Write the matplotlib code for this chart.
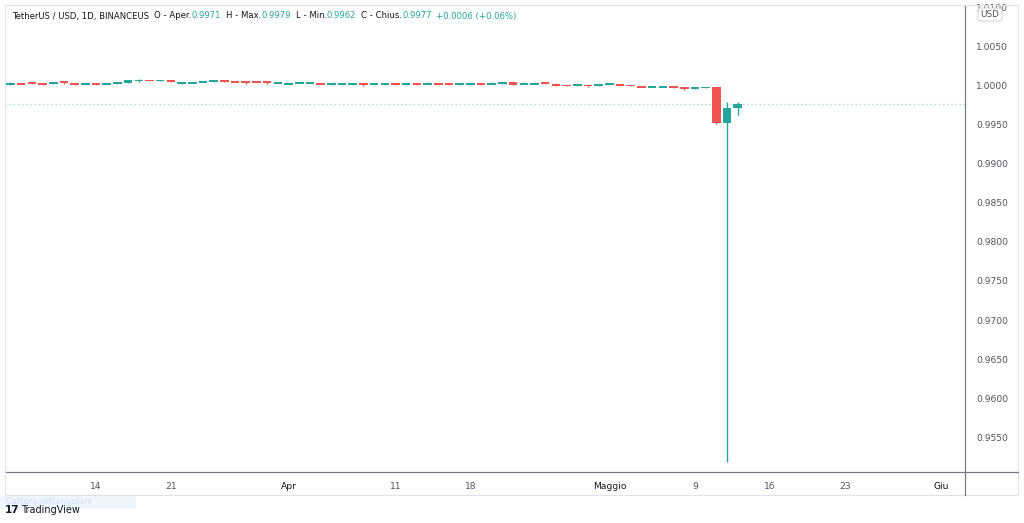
import numpy as np
import pandas as pd
import matplotlib
matplotlib.use("Agg")
import matplotlib.pyplot as plt
from matplotlib.patches import FancyBboxPatch, Rectangle
from matplotlib.lines import Line2D

# Daily candles TetherUS / USD (BINANCEUS), 6 Mar - 13 May
dates = pd.date_range("2022-03-06", "2022-05-13", freq="D")

opens = [1.0002, 1.0003, 1.0004, 1.0002, 1.0002, 1.0005, 1.0002, 1.0002, 1.0002, 1.0002,
         1.0003, 1.0003, 1.0006, 1.0007, 1.0006, 1.0007, 1.0003, 1.0003, 1.0004, 1.0005,
         1.0006, 1.0005, 1.0005, 1.0005, 1.0005, 1.0003, 1.0002, 1.0003, 1.0003, 1.0003,
         1.0001, 1.0001, 1.0001, 1.0002, 1.0001, 1.0001, 1.0003, 1.0001, 1.0002, 1.0002,
         1.0002, 1.0002, 1.0001, 1.0001, 1.0002, 1.0002, 1.0002, 1.0004, 1.0002, 1.0002,
         1.0004, 1.0002, 1.0001, 1.0000, 1.0001, 1.0000, 1.0001, 1.0002, 1.0001, 0.9999,
         0.9998, 0.9998, 0.9999, 0.9998, 0.9996, 0.9997, 0.9998, 0.9952, 0.9971]
closes = [1.0003, 1.0002, 1.0002, 1.0001, 1.0004, 1.0003, 1.0001, 1.0003, 1.0001, 1.0003,
          1.0004, 1.0007, 1.0007, 1.0006, 1.0007, 1.0004, 1.0004, 1.0004, 1.0005, 1.0006,
          1.0005, 1.0004, 1.0004, 1.0004, 1.0003, 1.0004, 1.0003, 1.0004, 1.0004, 1.0002,
          1.0002, 1.0002, 1.0002, 1.0001, 1.0002, 1.0003, 1.0001, 1.0002, 1.0001, 1.0003,
          1.0001, 1.0001, 1.0002, 1.0002, 1.0001, 1.0003, 1.0004, 1.0001, 1.0003, 1.0003,
          1.0002, 1.0000, 0.9999, 1.0001, 0.9999, 1.0002, 1.0003, 1.0000, 0.9999, 0.9998,
          0.9999, 0.9999, 0.9997, 0.9996, 0.9998, 0.9998, 0.9952, 0.9971, 0.9977]
highs = [1.0004, 1.0003, 1.0004, 1.0002, 1.0004, 1.0006, 1.0002, 1.0003, 1.0002, 1.0003,
         1.0005, 1.0007, 1.0008, 1.0007, 1.0007, 1.0007, 1.0005, 1.0004, 1.0005, 1.0006,
         1.0006, 1.0005, 1.0005, 1.0005, 1.0006, 1.0004, 1.0003, 1.0005, 1.0004, 1.0003,
         1.0002, 1.0002, 1.0002, 1.0002, 1.0002, 1.0003, 1.0003, 1.0002, 1.0002, 1.0004,
         1.0002, 1.0002, 1.0002, 1.0002, 1.0002, 1.0004, 1.0004, 1.0004, 1.0004, 1.0004,
         1.0004, 1.0003, 1.0001, 1.0001, 1.0001, 1.0002, 1.0003, 1.0002, 1.0001, 0.9999,
         0.9999, 0.9999, 0.9999, 0.9998, 0.9998, 0.9998, 0.9998, 0.9979, 0.9979]
lows = [1.0001, 1.0002, 1.0002, 1.0001, 1.0002, 1.0002, 1.0001, 1.0002, 1.0001, 1.0002,
        1.0002, 1.0003, 1.0005, 1.0006, 1.0006, 1.0004, 1.0002, 1.0003, 1.0004, 1.0005,
        1.0005, 1.0004, 1.0002, 1.0004, 1.0002, 1.0003, 1.0002, 1.0003, 1.0003, 1.0002,
        1.0001, 1.0001, 1.0001, 1.0000, 1.0001, 1.0001, 1.0001, 1.0001, 1.0001, 1.0002,
        1.0001, 1.0001, 1.0001, 1.0001, 1.0001, 1.0002, 1.0002, 1.0001, 1.0002, 1.0002,
        1.0002, 0.9999, 0.9999, 1.0000, 0.9998, 0.9999, 1.0001, 0.9999, 0.9999, 0.9998,
        0.9998, 0.9998, 0.9997, 0.9994, 0.9996, 0.9997, 0.9951, 0.9518, 0.9962]

y_ticks = [0.9550, 0.9600, 0.9650, 0.9700, 0.9750, 0.9800, 0.9850, 0.9900,
           0.9950, 1.0000, 1.0050, 1.0100]
x_tick_dates = ["2022-03-14", "2022-03-21", "2022-04-01", "2022-04-11", "2022-04-18",
                "2022-05-01", "2022-05-09", "2022-05-16", "2022-05-23", "2022-06-01"]
x_tick_labels = ["14", "21", "Apr", "11", "18", "Maggio", "9", "16", "23", "Giu"]
month_labels = ["Apr", "Maggio", "Giu"]

UP = "#26a69a"
DOWN = "#ef5350"
TXT = "#131722"
AX_TXT = "#50535e"

W, H = 1024, 523
fig = plt.figure(figsize=(W / 100, H / 100), dpi=100)
fig.patch.set_facecolor("white")

def fx(px):
    return px / W

def fy(py):
    return 1 - py / H

# plot area: x 5..965, y 5..472 px
ax = fig.add_axes([fx(5), fy(472), fx(960), (472 - 5) / H])
ax.set_facecolor("white")

base = dates[0]
xs = np.array([(d - base).days for d in dates])
min_body = 0.00024  # about 2 px, like the thin TradingView bodies

for x, o, c, h, l in zip(xs, opens, closes, highs, lows):
    col = UP if c >= o else DOWN
    ax.vlines(x, l, h, color=col, lw=1.0, zorder=2)
    lo, hi = min(o, c), max(o, c)
    if hi - lo < min_body:
        mid = (hi + lo) / 2
        lo, hi = mid - min_body / 2, mid + min_body / 2
    ax.bar(x, hi - lo, bottom=lo, width=0.8, color=col, edgecolor="none", zorder=3)

# last price line
ax.axhline(closes[-1], color=UP, lw=1.0, ls=(0, (1, 2)), alpha=0.4, zorder=1)

ax.set_xlim(-0.51, 89.25)
ax.set_ylim(0.95057, 1.01030)

for s in ["top", "left"]:
    ax.spines[s].set_visible(False)
ax.spines["right"].set_color("#787b86")
ax.spines["bottom"].set_color("#787b86")
ax.spines["right"].set_linewidth(0.9)
ax.spines["bottom"].set_linewidth(0.9)

ax.yaxis.tick_right()
ax.set_yticks(y_ticks)
ax.set_yticklabels([f"{v:.4f}" for v in y_ticks])
ax.tick_params(axis="y", length=0, pad=8, labelsize=6.6, labelcolor=AX_TXT)

tick_x = [(pd.Timestamp(d) - base).days for d in x_tick_dates]
ax.set_xticks(tick_x)
ax.set_xticklabels(x_tick_labels)
ax.tick_params(axis="x", length=0, pad=7, labelsize=6.6, labelcolor=AX_TXT)
for lab in ax.get_xticklabels():
    if lab.get_text() in month_labels:
        lab.set_color(TXT)

# frame lines around the whole chart
fig.add_artist(Line2D([fx(965), fx(1018)], [fy(472), fy(472)], color="#787b86", lw=0.9))
fig.add_artist(Line2D([fx(965), fx(965)], [fy(472), fy(495)], color="#787b86", lw=0.9))
fig.add_artist(Rectangle((fx(5), fy(495)), fx(1013), (495 - 5) / H, fill=False,
                         edgecolor="#e0e3eb", lw=0.8))

# USD box over top of price scale
fig.add_artist(FancyBboxPatch((fx(978), fy(21)), fx(24), 13 / H,
                              boxstyle="round,pad=0,rounding_size=0.004",
                              facecolor="white", edgecolor="#d1d4dc", lw=0.8))
fig.text(fx(990), fy(14.5), "USD", fontsize=6.4, color=AX_TXT, ha="center", va="center")

# header legend, pieces chained by measured width
renderer = fig.canvas.get_renderer()
hy = fy(16)
parts = [
    ("TetherUS / USD, 1D, BINANCEUS", TXT, 5),
    ("O - Aper.", TXT, 0), ("0.9971", UP, 5),
    ("H - Max.", TXT, 0), ("0.9979", UP, 5),
    ("L - Min.", TXT, 0), ("0.9962", UP, 5),
    ("C - Chius.", TXT, 0), ("0.9977", UP, 4),
    ("+0.0006 (+0.06%)", UP, 0),
]
cur = 12
for s, col, gap in parts:
    t = fig.text(fx(cur), hy, s, fontsize=6.1, color=col, ha="left", va="center")
    cur += t.get_window_extent(renderer).width + gap

# bottom watermark
fig.add_artist(Rectangle((fx(0), fy(509)), fx(136), 13 / H, facecolor="#eef5fd",
                         edgecolor="none"))
fig.text(fx(6), fy(502), "Cattura rettangolare", fontsize=6, color="#d5e3f3",
         ha="left", va="center")
fig.text(fx(5), fy(510), "17", fontsize=7.5, color=TXT, fontweight="bold",
         ha="left", va="center")
fig.text(fx(21), fy(510), "TradingView", fontsize=7, color=TXT, ha="left", va="center")

fig.savefig("out.png", dpi=100, facecolor="white")
